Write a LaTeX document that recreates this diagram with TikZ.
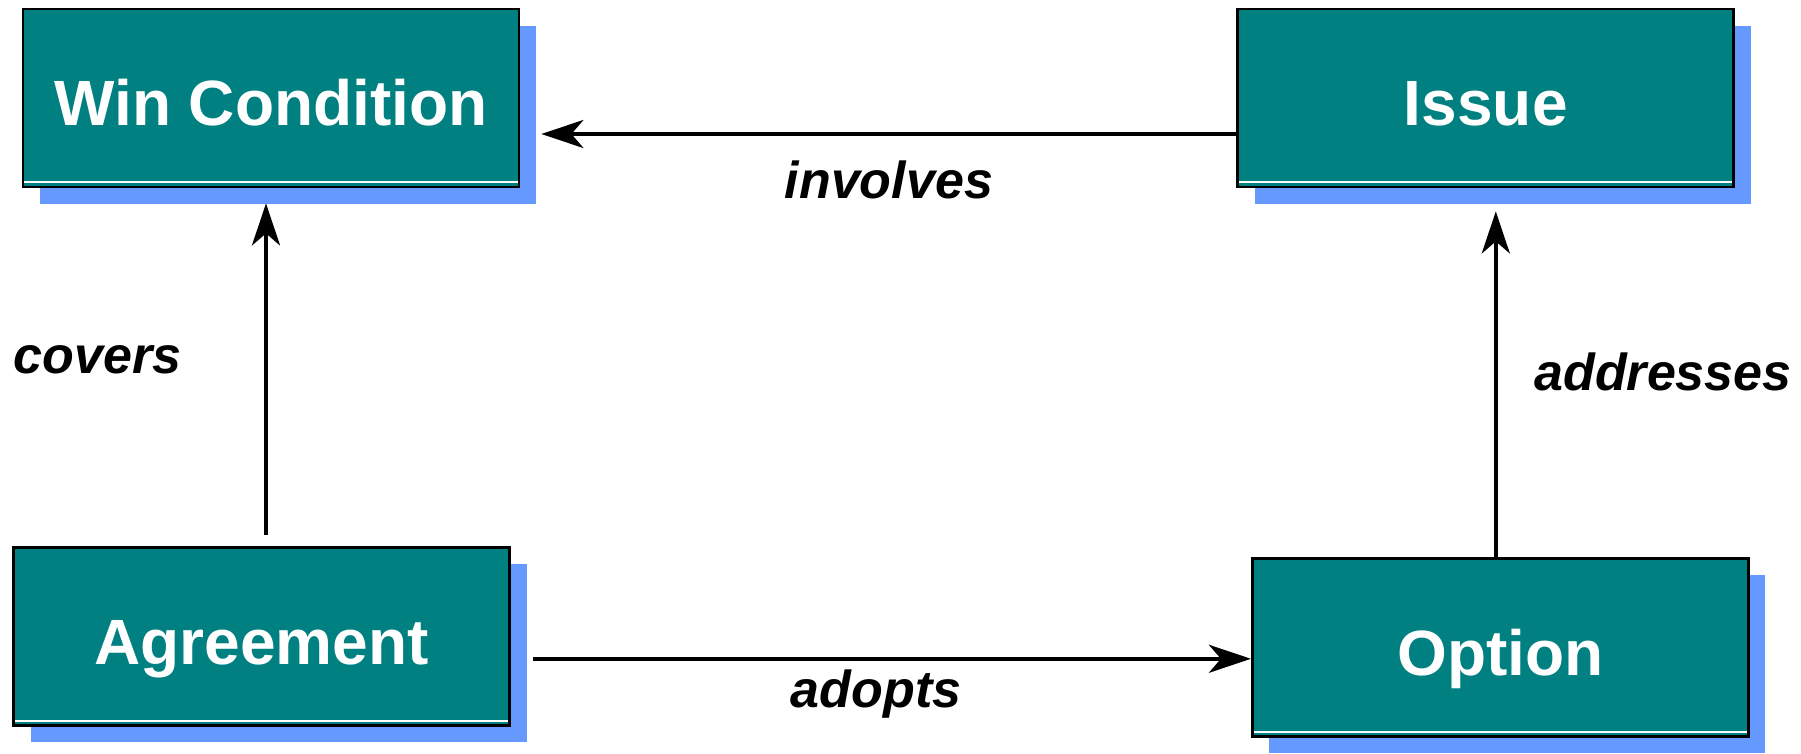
\documentclass[tikz,border=0pt]{standalone}
\usepackage{fontspec}
\setmainfont{Liberation Sans}
\usetikzlibrary{arrows.meta,shadows,positioning}
\definecolor{boxteal}{RGB}{0,128,128}
\definecolor{shadeblue}{RGB}{102,153,255}
\tikzset{
  entity/.style={ % teal box of one concept, with a flat blue shadow
    draw=black, line width=1.4pt, fill=boxteal,
    minimum width=248pt, minimum height=89pt, inner sep=0pt,
    text=white, font=\bfseries\fontsize{32}{38}\selectfont,
    text height=28pt, text depth=0pt,
    drop shadow={shadow xshift=8.5pt, shadow yshift=-8.5pt,
      fill=shadeblue, opacity=1},
    path picture = {
      \draw[white, line width=1pt]
      ([yshift=2.4pt]path picture bounding box.south west) --
      ([yshift=2.4pt]path picture bounding box.south east);
    }
  },
  rel/.style={ % relation between two concepts
    line width=1.9pt, -{Stealth[length=21pt, width=14pt, inset=6pt]}
  },
  rellabel/.style={
    font=\bfseries\itshape\fontsize{26}{31}\selectfont
  }
}

\begin{document}
\begin{tikzpicture}
  \useasboundingbox (0,0) rectangle (900.5pt,-377pt);

  \node[entity] (WC) at (135.5pt,-49pt) {Win Condition};
  \node[entity, right=358pt of WC] (IS) {Issue};
  \node[entity, below=178.75pt of WC, xshift=-4.75pt] (AG) {Agreement};
  \node[entity, right=370pt of AG, yshift=-5.5pt] (OP) {Option};

  \draw[rel] ([yshift=-18pt]IS.west) -- ([xshift=10.5pt,yshift=-18pt]WC.east)
    node[rellabel, midway, below=9pt] {involves};
  \draw[rel] ([xshift=2.25pt,yshift=5.25pt]AG.north) -- ([xshift=-2.5pt,yshift=-7.5pt]WC.south)
    node[rellabel, midway, left=38pt, yshift=5pt] {covers};
  \draw[rel] ([xshift=-2.25pt]OP.north) -- ([xshift=5pt,yshift=-11.5pt]IS.south)
    node[rellabel, midway, right=15pt, yshift=6pt] {addresses};
  \draw[rel] ([xshift=11.25pt,yshift=-11.25pt]AG.east) -- ([yshift=-5.75pt]OP.west)
    node[rellabel, midway, below=1pt, xshift=-8pt] {adopts};
\end{tikzpicture}
\end{document}
